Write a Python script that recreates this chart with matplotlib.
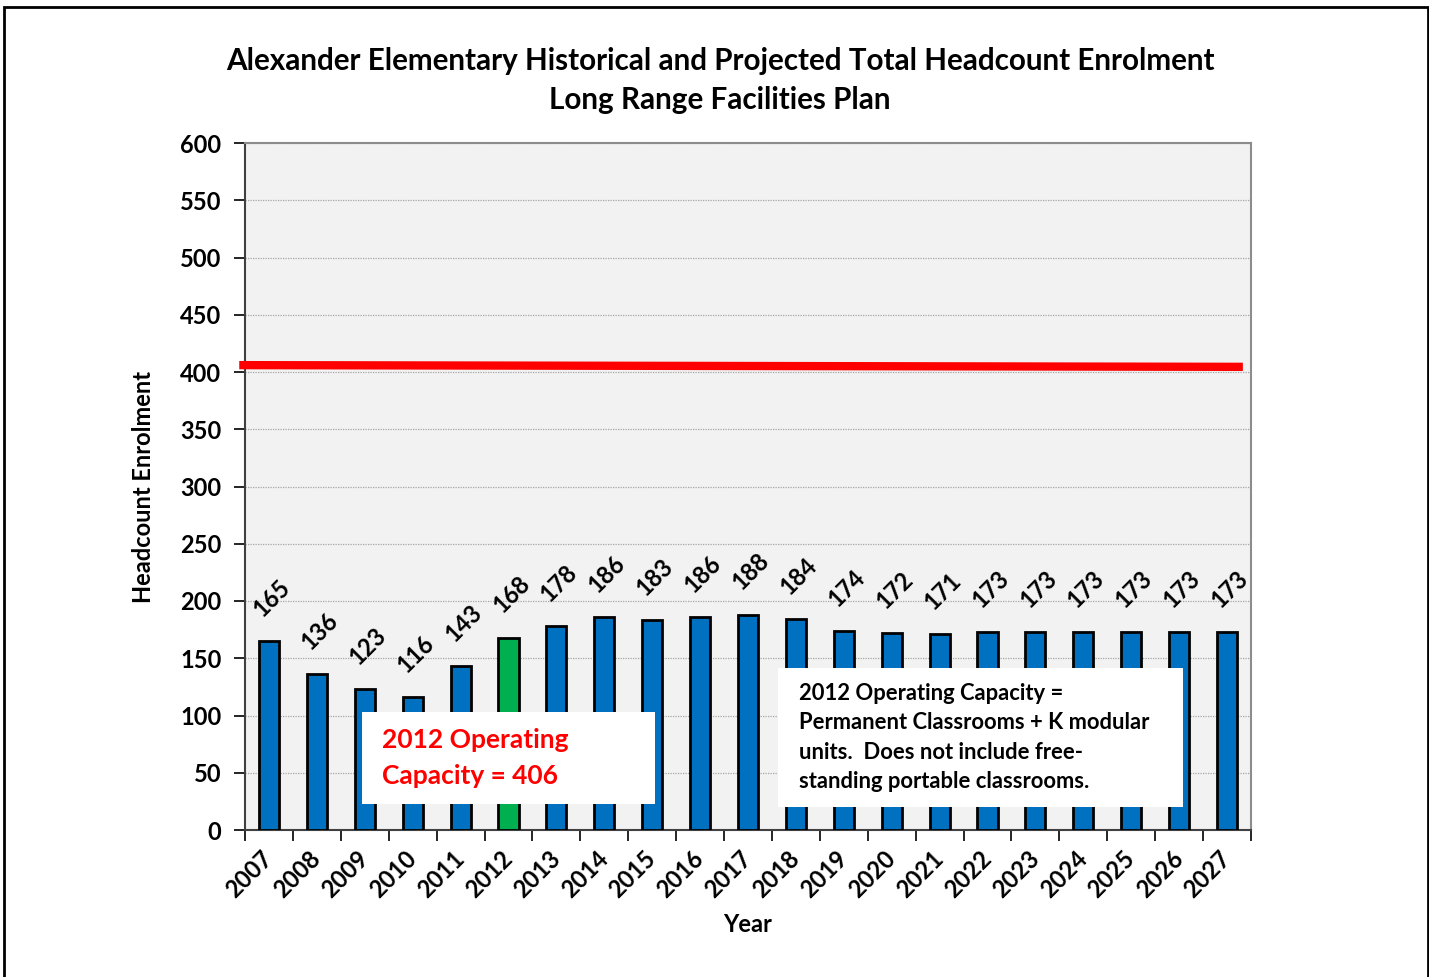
import matplotlib
matplotlib.use("Agg")
import matplotlib.pyplot as plt
from matplotlib.patches import Rectangle
import numpy as np

years = ["2007", "2008", "2009", "2010", "2011", "2012", "2013", "2014", "2015", "2016",
         "2017", "2018", "2019", "2020", "2021", "2022", "2023", "2024", "2025", "2026", "2027"]
enrolment = [165, 136, 123, 116, 143, 168, 178, 186, 183, 186,
             188, 184, 174, 172, 171, 173, 173, 173, 173, 173, 173]
capacity = 406
highlight_year = "2012"

plt.rcParams['font.family'] = ['Lato', 'DejaVu Sans']
plt.rcParams['font.weight'] = 'bold'

fig = plt.figure(figsize=(14.29, 9.77), dpi=100)
fig.patch.set_facecolor('white')
ax = fig.add_axes([245/1429, 1-830/977, (1251-245)/1429, (830-143)/977])
ax.set_facecolor('#F2F2F2')

x = np.arange(len(years))
colors = ['#00B050' if y == highlight_year else '#0070C0' for y in years]
ax.bar(x, enrolment, width=0.42, color=colors, edgecolor='black', linewidth=2, zorder=3)

for xi, v in zip(x, enrolment):
    ax.annotate(str(v), (xi, v), xytext=(2, 31), textcoords='offset points',
                ha='center', va='center', rotation=45, fontsize=17, fontweight='bold', zorder=5)

ax.plot([-0.62, len(years) - 0.67], [capacity, capacity - 1.5], color='#FF0000', linewidth=6,
        zorder=4, clip_on=False, solid_capstyle='butt')

ax.set_xlim(-0.5, len(years) - 0.5)
ax.set_ylim(0, 600)
ax.set_yticks(np.arange(0, 601, 50))
ax.set_yticklabels([str(v) for v in range(0, 601, 50)], fontsize=17, fontweight='bold')
ax.yaxis.grid(True, linestyle=(0, (1, 1)), color='#A6A6A6', linewidth=0.9, zorder=0)
ax.set_axisbelow(True)
ax.tick_params(axis='y', direction='out', length=8, width=1.2, pad=9, color='black')

ax.set_xticks(x)
ax.set_xticklabels(years, rotation=45, ha='right', va='center', rotation_mode='anchor',
                   fontsize=17, fontweight='bold')
ax.set_xticks(np.arange(-0.5, len(years), 1), minor=True)
ax.tick_params(axis='x', which='major', length=0, pad=18)
ax.tick_params(axis='x', which='minor', direction='out', length=8, width=1.2, color='black')

for s in ['top', 'right']:
    ax.spines[s].set_color('#8C8C8C')
    ax.spines[s].set_linewidth(1.5)
ax.spines['left'].set_color('#404040')
ax.spines['left'].set_linewidth(1.5)
ax.spines['bottom'].set_color('#404040')
ax.spines['bottom'].set_linewidth(1.5)

ax.set_ylabel('Headcount Enrolment', fontsize=17, fontweight='bold', labelpad=18)
ax.set_xlabel('Year', fontsize=17, fontweight='bold', labelpad=8)

fig.text(720/1429, 1-61/977, 'Alexander Elementary Historical and Projected Total Headcount Enrolment',
         ha='center', va='center', fontsize=21.3, fontweight='bold')
fig.text(720/1429, 1-100/977, 'Long Range Facilities Plan',
         ha='center', va='center', fontsize=21.3, fontweight='bold')

# annotation boxes
ax.add_patch(Rectangle((1.94, 22.5), 6.12, 80.5, facecolor='white', edgecolor='none', zorder=6))
ax.text(2.35, 78.5, '2012 Operating', color='#FF0000', fontsize=19, fontweight='bold',
        ha='left', va='center', zorder=7)
ax.text(2.35, 47, 'Capacity = 406', color='#FF0000', fontsize=19, fontweight='bold',
        ha='left', va='center', zorder=7)

ax.add_patch(Rectangle((10.63, 20), 8.45, 121.5, facecolor='white', edgecolor='none', zorder=6))
box_lines = ['2012 Operating Capacity =', 'Permanent Classrooms + K modular',
             'units.  Does not include free-', 'standing portable classrooms.']
for i, line in enumerate(box_lines):
    ax.text(11.07, (830-693)/1.145 - i * 25.8, line, fontsize=15.8, fontweight='bold',
            ha='left', va='center', zorder=7)

fig.add_artist(Rectangle((4/1429, -0.05), 1424/1429, 1.05 - 7/977, transform=fig.transFigure,
                         facecolor='none', edgecolor='black', linewidth=2))

fig.savefig('out.png', dpi=100)
